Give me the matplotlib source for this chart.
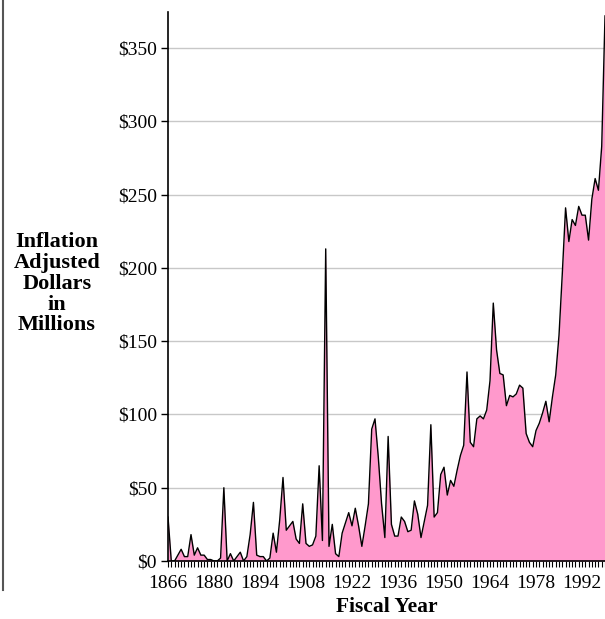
import matplotlib
matplotlib.use("Agg")
import matplotlib.pyplot as plt
from matplotlib.lines import Line2D
from matplotlib.ticker import MultipleLocator, FixedLocator
import numpy as np

# fiscal years and inflation adjusted dollars (millions)
first_year = 1866
values = [
    30, 0, 0, 4, 8, 3, 3, 18, 4, 9,            # 1866-1875
    4, 4, 1, 1, 0, 0, 2, 50, 0, 5,             # 1876-1885
    0, 3, 6, 0, 3, 18, 40, 4, 3, 3,            # 1886-1895
    0, 2, 19, 6, 28, 57, 21, 24, 27, 15,       # 1896-1905
    12, 39, 12, 10, 11, 17, 65, 14, 213, 10,   # 1906-1915
    25, 5, 3, 19, 26, 33, 24, 36, 24, 10,      # 1916-1925
    24, 39, 90, 97, 71, 39, 16, 85, 25, 17,    # 1926-1935
    17, 30, 27, 20, 21, 41, 32, 16, 27, 38,    # 1936-1945
    93, 30, 33, 59, 64, 45, 55, 51, 62, 72,    # 1946-1955
    79, 129, 81, 78, 97, 99, 97, 103, 123, 176,  # 1956-1965
    144, 128, 127, 106, 113, 112, 114, 120, 118, 87,  # 1966-1975
    81, 78, 89, 94, 101, 109, 95, 112, 127, 154,  # 1976-1985
    196, 241, 218, 233, 229, 242, 236, 236, 219, 247,  # 1986-1995
    261, 253, 283, 372,                          # 1996-1999
]
years = np.arange(first_year, first_year + len(values))
label_years = list(range(1866, 1993, 14))
y_ticks = list(range(0, 351, 50))
y_labels = ["$" + str(v) for v in y_ticks]

plt.rcParams['font.family'] = ['Liberation Serif', 'DejaVu Serif']

fig = plt.figure(figsize=(6.05, 6.19), dpi=100)
ax = fig.add_axes([168 / 605, 58 / 619, 437 / 605, 549.5 / 619])

ax.fill_between(years, values, 0, color='#FF99CC', lw=0, zorder=2)
ax.plot(years, values, color='black', lw=1.0, zorder=3)

ax.set_xlim(1866, years[-1])
ax.set_ylim(0, 375)

for v in y_ticks[1:]:
    ax.axhline(v, color='#c8c8c8', lw=1.0, zorder=1)

ax.set_yticks(y_ticks)
ax.set_yticklabels(y_labels, fontsize=14)
ax.xaxis.set_major_locator(FixedLocator(label_years))
ax.xaxis.set_minor_locator(MultipleLocator(1))
ax.set_xticklabels([str(y) for y in label_years], fontsize=14)
ax.tick_params(axis='y', direction='out', length=5, width=1, pad=3)
ax.tick_params(axis='x', which='both', direction='out', length=4, width=0.8, pad=6)

for s in ['top', 'right']:
    ax.spines[s].set_visible(False)
for s in ['left', 'bottom']:
    ax.spines[s].set_color('black')
    ax.spines[s].set_linewidth(1.2)
    ax.spines[s].set_zorder(4)

ax.set_xlabel("Fiscal Year", fontsize=15.5, fontweight='bold', labelpad=4)
fig.text(57 / 605, 1 - 284 / 619, "Inflation\nAdjusted\nDollars\nin\nMillions",
         ha='center', va='center', fontsize=16, fontweight='bold', linespacing=1.05)

# grey border line on the left of the page
fig.add_artist(Line2D([3 / 605, 3 / 605], [1, 1 - 590 / 619],
                      transform=fig.transFigure, color='#555555', lw=1.5))

fig.savefig("out.png", dpi=100)
